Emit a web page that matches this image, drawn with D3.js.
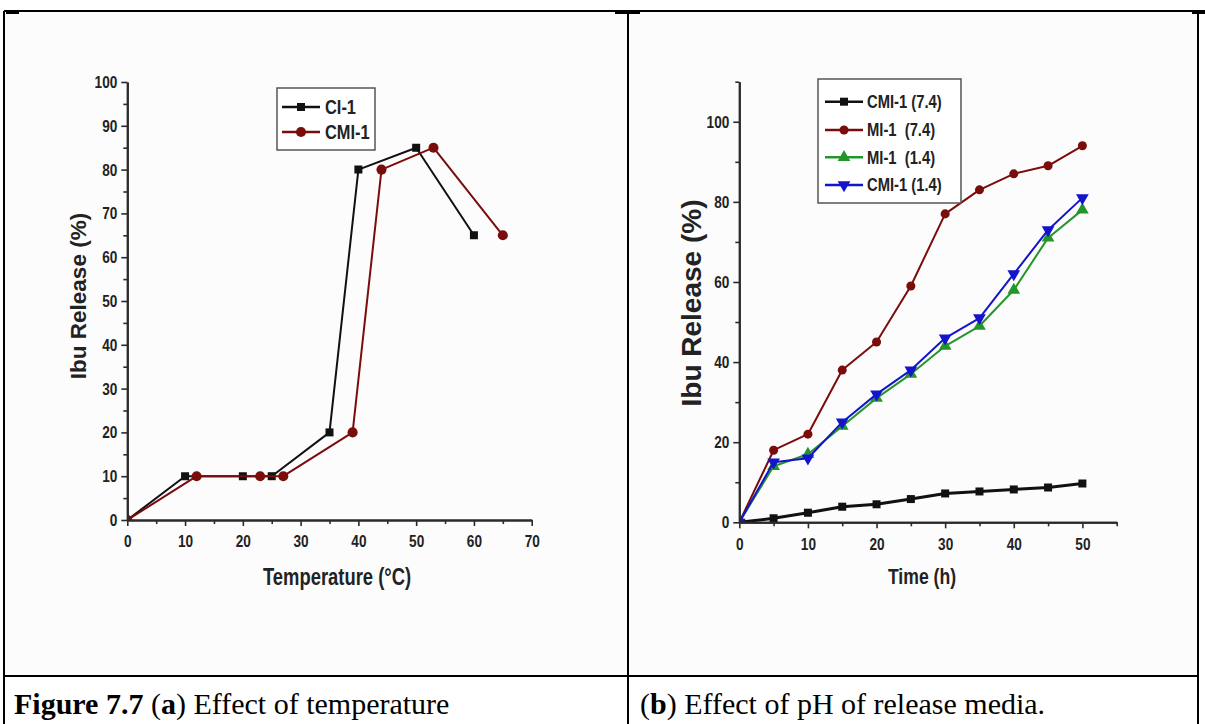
<!DOCTYPE html>
<html>
<head>
<meta charset="utf-8">
<script src="https://cdn.jsdelivr.net/npm/d3@7"></script>
<style>
  body { margin: 0; background: #fff; }
  svg { display: block; }
  .narrow { font-family: "Liberation Sans Narrow", "Arial Narrow", "Liberation Sans", Arial, sans-serif; font-weight: bold; }
  .wide { font-family: "Liberation Sans", Arial, sans-serif; font-weight: bold; }
  .serif { font-family: "Liberation Serif", "Times New Roman", serif; }
</style>
</head>
<body>
<svg id="fig" width="1205" height="724"></svg>
<script>
// ---- Panel (a): release vs temperature ----
const tempSeriesNames = ["CI-1", "CMI-1"];
const ci1Temp = [0, 10, 20, 25, 35, 40, 50, 60];
const ci1Release = [0, 10, 10, 10, 20, 80, 85, 65];
const cmi1Temp = [0, 12, 23, 27, 39, 44, 53, 65];
const cmi1Release = [0, 10, 10, 10, 20, 80, 85, 65];
const tempTicks = [0, 10, 20, 30, 40, 50, 60, 70];
const releaseTicksA = [0, 10, 20, 30, 40, 50, 60, 70, 80, 90, 100];

// ---- Panel (b): release vs time at two pH values ----
const phSeriesNames = ["CMI-1 (7.4)", "MI-1  (7.4)", "MI-1  (1.4)", "CMI-1 (1.4)"];
const timeHours = [0, 5, 10, 15, 20, 25, 30, 35, 40, 45, 50];
const cmi1pH74 = [0, 1, 2.4, 3.9, 4.5, 5.8, 7.2, 7.7, 8.2, 8.7, 9.7];
const mi1pH74 = [0, 18, 22, 38, 45, 59, 77, 83, 87, 89, 94];
const mi1pH14 = [0, 14, 17, 24, 31, 37, 44, 49, 58, 71, 78];
const cmi1pH14 = [0, 15, 16, 25, 32, 38, 46, 51, 62, 73, 81];
const timeTicks = [0, 10, 20, 30, 40, 50];
const releaseTicksB = [0, 20, 40, 60, 80, 100];

const svg = d3.select("#fig");

// table frame
svg.append("rect").attr("x", 4).attr("y", 11).attr("width", 1194).attr("height", 665).attr("fill", "#fcfcfc");
const frame = svg.append("g").attr("stroke", "#000").attr("stroke-width", 2);
frame.append("line").attr("x1", 4).attr("x2", 1205).attr("y1", 11).attr("y2", 11);
frame.append("line").attr("x1", 4).attr("x2", 4).attr("y1", 11).attr("y2", 724);
frame.append("line").attr("x1", 628).attr("x2", 628).attr("y1", 11).attr("y2", 724);
frame.append("line").attr("x1", 1198).attr("x2", 1198).attr("y1", 11).attr("y2", 724);
frame.append("line").attr("x1", 4).attr("x2", 1198).attr("y1", 676).attr("y2", 676);
[[6, 19], [615, 640], [1192, 1205]].forEach(([a, b]) => {
  frame.append("line").attr("x1", a).attr("x2", b).attr("y1", 12.5).attr("y2", 12.5).attr("stroke-width", 3);
});

function markerPath(kind, size) {
  const types = { square: d3.symbolSquare, circle: d3.symbolCircle, triangle: d3.symbolTriangle, down: d3.symbolTriangle };
  return d3.symbol().type(types[kind]).size(size)();
}

// squeeze bold sans text horizontally to a condensed face
function condense(sel, factor) {
  sel.each(function () {
    const len = this.getComputedTextLength();
    if (len > 0) {
      d3.select(this).attr("textLength", (len * factor).toFixed(2)).attr("lengthAdjust", "spacingAndGlyphs");
    }
  });
}

function drawPanel(cfg) {
  const g = svg.append("g");
  const x = d3.scaleLinear().domain(cfg.xDomain).range(cfg.xRange);
  const y = d3.scaleLinear().domain(cfg.yDomain).range(cfg.yRange);

  const clipId = cfg.id + "-clip";
  svg.append("clipPath").attr("id", clipId).append("rect")
    .attr("x", cfg.xRange[0]).attr("y", cfg.yRange[1] - 10)
    .attr("width", cfg.xRange[1] - cfg.xRange[0] + 10).attr("height", cfg.yRange[0] - cfg.yRange[1] + 10);

  const plot = g.append("g").attr("clip-path", `url(#${clipId})`);
  cfg.series.forEach(s => {
    const pts = s.xs.map((v, i) => [v, s.ys[i]]);
    plot.append("path").datum(pts)
      .attr("fill", "none").attr("stroke", s.color).attr("stroke-width", s.width)
      .attr("stroke-linejoin", "round")
      .attr("d", d3.line().x(d => x(d[0])).y(d => y(d[1])));
    plot.selectAll(null).data(pts).enter().append("path")
      .attr("d", markerPath(s.marker, s.size))
      .attr("fill", s.color)
      .attr("transform", d => `translate(${x(d[0])},${y(d[1])})${s.marker === "down" ? " rotate(180)" : ""}`);
  });

  // axes: major ticks labelled, minor ticks between
  const axisColor = "#2b2b2b";
  const xAxisG = g.append("g").attr("transform", `translate(0,${cfg.yRange[0]})`);
  xAxisG.call(d3.axisBottom(x).tickValues(cfg.xMinor).tickFormat("").tickSize(4).tickSizeOuter(0));
  const xMajor = g.append("g").attr("transform", `translate(0,${cfg.yRange[0]})`)
    .call(d3.axisBottom(x).tickValues(cfg.xTicks).tickSize(6).tickSizeOuter(0).tickPadding(6));
  const yAxisG = g.append("g").attr("transform", `translate(${cfg.xRange[0]},0)`);
  yAxisG.call(d3.axisLeft(y).tickValues(cfg.yMinor).tickFormat("").tickSize(4).tickSizeOuter(0));
  const yMajor = g.append("g").attr("transform", `translate(${cfg.xRange[0]},0)`)
    .call(d3.axisLeft(y).tickValues(cfg.yTicks).tickSize(6).tickSizeOuter(0).tickPadding(4));
  [xAxisG, xMajor, yAxisG, yMajor].forEach(a => {
    a.selectAll("path.domain").attr("stroke", axisColor).attr("stroke-width", 2);
    a.selectAll(".tick line").attr("stroke", axisColor).attr("stroke-width", 1.6);
    a.selectAll(".tick text").attr("class", "narrow").attr("font-size", 17).attr("fill", "#222");
  });
  xMajor.selectAll(".tick text").attr("dy", "0.9em");
  condense(xMajor.selectAll(".tick text"), 0.8);
  condense(yMajor.selectAll(".tick text"), 0.8);

  // axis titles
  const xt = g.append("text").attr("class", "narrow").attr("font-size", cfg.xTitleSize).attr("fill", "#222")
    .attr("text-anchor", "middle").attr("x", cfg.xTitlePos[0]).attr("y", cfg.xTitlePos[1])
    .text(cfg.xTitle);
  condense(xt, 0.8);
  g.append("text").attr("class", "wide").attr("font-size", cfg.yTitleSize).attr("fill", "#222")
    .attr("text-anchor", "middle")
    .attr("transform", `translate(${cfg.yTitlePos[0]},${cfg.yTitlePos[1]}) rotate(-90)`)
    .text("Ibu Release (%)");

  // legend
  const L = cfg.legend;
  g.append("rect").attr("x", L.x).attr("y", L.y).attr("width", L.w).attr("height", L.h)
    .attr("fill", "#fff").attr("stroke", "#555").attr("stroke-width", 1.5);
  cfg.series.forEach((s, i) => {
    const ry = L.rowY[i];
    g.append("line").attr("x1", L.lineX[0]).attr("x2", L.lineX[1]).attr("y1", ry).attr("y2", ry)
      .attr("stroke", s.color).attr("stroke-width", 2.5);
    g.append("path").attr("d", markerPath(s.marker, s.size))
      .attr("fill", s.color)
      .attr("transform", `translate(${(L.lineX[0] + L.lineX[1]) / 2},${ry})${s.marker === "down" ? " rotate(180)" : ""}`);
    const t = g.append("text").attr("class", "narrow").attr("font-size", L.fontSize).attr("fill", "#222")
      .attr("x", L.textX).attr("y", ry).attr("dy", "0.36em")
      .style("white-space", "pre").text(s.name);
    condense(t, 0.82);
  });
}

drawPanel({
  id: "temp",
  xDomain: [0, 70], xRange: [127.3, 531.7],
  yDomain: [0, 100], yRange: [520, 82],
  xTicks: tempTicks, xMinor: d3.range(5, 70, 10),
  yTicks: releaseTicksA, yMinor: d3.range(5, 100, 10),
  series: [
    { name: tempSeriesNames[0], xs: ci1Temp, ys: ci1Release, color: "#111", width: 2, marker: "square", size: 64 },
    { name: tempSeriesNames[1], xs: cmi1Temp, ys: cmi1Release, color: "#7a0c0c", width: 2, marker: "circle", size: 80 }
  ],
  xTitleSize: 23, xTitlePos: [337, 585],
  xTitle: "Temperature (°C)",
  yTitleSize: 22.5, yTitlePos: [86, 296],
  legend: { x: 277, y: 88, w: 98, h: 62, rowY: [107, 132], lineX: [282, 320], textX: 325, fontSize: 20 }
});

drawPanel({
  id: "ph",
  xDomain: [0, 55], xRange: [739.3, 1116.7],
  yDomain: [0, 110], yRange: [522.3, 81.7],
  xTicks: timeTicks, xMinor: d3.range(5, 56, 10),
  yTicks: releaseTicksB, yMinor: d3.range(10, 111, 20),
  series: [
    { name: phSeriesNames[0], xs: timeHours, ys: cmi1pH74, color: "#111", width: 3, marker: "square", size: 64 },
    { name: phSeriesNames[1], xs: timeHours, ys: mi1pH74, color: "#7a0c0c", width: 2, marker: "circle", size: 64 },
    { name: phSeriesNames[2], xs: timeHours, ys: mi1pH14, color: "#23962a", width: 2, marker: "triangle", size: 70 },
    { name: phSeriesNames[3], xs: timeHours, ys: cmi1pH14, color: "#1414cc", width: 2, marker: "down", size: 70 }
  ],
  xTitleSize: 22, xTitlePos: [922, 584],
  xTitle: "Time (h)",
  yTitleSize: 28, yTitlePos: [701, 303],
  legend: { x: 818, y: 79, w: 143, h: 124, rowY: [101.7, 130, 157.3, 185], lineX: [825, 863], textX: 867, fontSize: 18 }
});

// captions
const capA = svg.append("text").attr("class", "serif").attr("font-size", 30).attr("x", 14).attr("y", 714).attr("fill", "#000");
capA.append("tspan").attr("font-weight", "bold").text("Figure 7.7 ");
capA.append("tspan").text("(");
capA.append("tspan").attr("font-weight", "bold").text("a");
capA.append("tspan").text(") Effect of temperature");
const capB = svg.append("text").attr("class", "serif").attr("font-size", 30).attr("x", 640).attr("y", 714).attr("fill", "#000");
capB.append("tspan").text("(");
capB.append("tspan").attr("font-weight", "bold").text("b");
capB.append("tspan").text(") Effect of pH of release media.");
</script>
</body>
</html>
